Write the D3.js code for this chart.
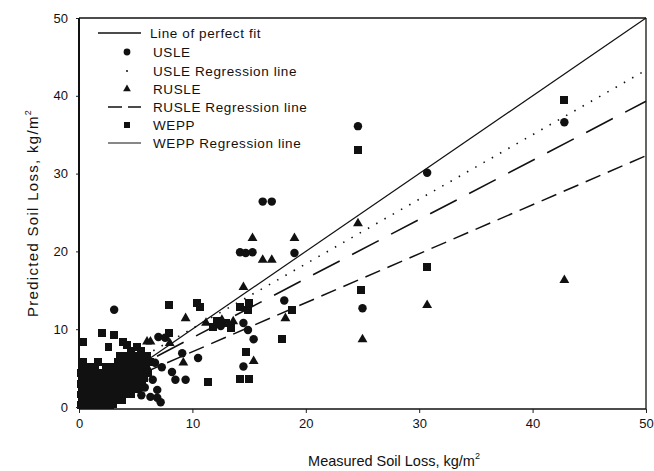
<!DOCTYPE html>
<html>
<head>
<meta charset="utf-8">
<script src="https://cdn.jsdelivr.net/npm/d3@7"></script>
<style>
  body { margin: 0; background: #fff; }
  svg { font-family: "Liberation Sans", Arial, sans-serif; }
</style>
</head>
<body>
<div id="chart"></div>
<script>
// Measured vs predicted soil loss, kg/m2 — [measured, predicted]
const usle = [
  [3.1, 12.5], [7.0, 9.0], [7.6, 8.9], [9.1, 6.9], [10.5, 6.3], [6.7, 5.7], [7.3, 5.1],
  [8.2, 4.5], [8.5, 3.5], [9.4, 3.5], [6.5, 3.5], [6.9, 2.2], [6.9, 1.2], [7.2, 0.6],
  [6.3, 1.3], [5.8, 2.5], [6.0, 4.8], [5.5, 1.5], [14.2, 19.9], [14.7, 19.8], [15.3, 19.9],
  [16.2, 26.4], [17.0, 26.4], [19.0, 19.8], [18.1, 13.7], [14.5, 10.8], [14.9, 9.9],
  [15.4, 8.7], [14.5, 5.2], [12.5, 10.4], [24.6, 36.1], [25.0, 12.7], [30.7, 30.1], [42.8, 36.6]
];
const rusle = [
  [6.0, 8.4], [6.3, 8.4], [8.0, 8.2], [9.4, 11.4], [9.2, 5.7], [11.2, 10.8], [12.6, 11.2],
  [13.6, 11.0], [15.3, 21.7], [19.0, 21.7], [16.2, 18.9], [17.0, 18.9], [14.5, 15.4],
  [15.4, 5.9], [18.2, 11.4], [4.8, 6.8], [3.5, 6.0], [24.6, 23.6], [25.0, 8.7],
  [30.7, 13.1], [42.8, 16.3]
];
const wepp = [
  // dense cluster near the origin
  [0.2, 0.3], [0.7, 0.3], [1.2, 0.3], [1.7, 0.3], [2.2, 0.3], [2.7, 0.3], [3.0, 0.4],
  [0.3, 0.9], [0.8, 0.9], [1.3, 0.9], [1.8, 0.9], [2.3, 0.9], [2.8, 0.9], [3.3, 0.9], [3.8, 0.9],
  [0.2, 1.6], [0.7, 1.6], [1.2, 1.6], [1.7, 1.6], [2.2, 1.6], [2.7, 1.6], [3.2, 1.6], [3.7, 1.6], [4.2, 1.6], [4.6, 1.6],
  [0.3, 2.3], [0.8, 2.3], [1.3, 2.3], [1.8, 2.3], [2.3, 2.3], [2.8, 2.3], [3.3, 2.3], [3.8, 2.3], [4.3, 2.3], [4.8, 2.3], [5.2, 2.3],
  [0.2, 3.0], [0.7, 3.0], [1.2, 3.0], [1.7, 3.0], [2.2, 3.0], [2.7, 3.0], [3.2, 3.0], [3.7, 3.0], [4.2, 3.0], [4.7, 3.0], [5.2, 3.0], [5.6, 3.0],
  [0.3, 3.7], [0.8, 3.7], [1.3, 3.7], [1.8, 3.7], [2.3, 3.7], [2.8, 3.7], [3.3, 3.7], [3.8, 3.7], [4.3, 3.7], [4.8, 3.7], [5.3, 3.7], [5.7, 3.7],
  [0.2, 4.4], [0.7, 4.4], [1.2, 4.4], [1.7, 4.4], [2.2, 4.4], [2.7, 4.4], [3.2, 4.4], [3.7, 4.4], [4.2, 4.4], [4.7, 4.4], [5.2, 4.4], [5.7, 4.4], [6.1, 4.4],
  [0.3, 5.1], [0.8, 5.1], [1.4, 5.1], [2.4, 5.1], [2.9, 5.1], [3.4, 5.1], [3.9, 5.1], [4.4, 5.1], [4.9, 5.1], [5.4, 5.1], [5.9, 5.1],
  [0.4, 5.8], [1.7, 5.8], [3.4, 5.8], [3.9, 5.8], [4.4, 5.8], [4.9, 5.8], [5.4, 5.8], [5.9, 5.8], [6.3, 5.8],
  [3.6, 6.5], [4.2, 6.5], [4.8, 6.5], [5.4, 6.5], [6.0, 6.5], [4.6, 7.2], [5.5, 7.2],
  // scattered
  [0.4, 8.4], [2.0, 9.5], [3.1, 9.3], [2.6, 7.7], [3.9, 8.4], [4.2, 8.0], [5.1, 7.7],
  [7.9, 13.1], [7.9, 9.5], [10.4, 13.4], [10.7, 12.8], [11.4, 3.2], [11.8, 10.3], [12.2, 11.0],
  [13.0, 10.8], [13.4, 10.2], [14.2, 12.9], [15.0, 13.4], [14.9, 12.5], [14.7, 7.1], [14.2, 3.6],
  [15.0, 3.6], [17.9, 8.7], [18.8, 12.5], [24.6, 33.0], [24.9, 15.0], [30.7, 18.0], [42.8, 39.5]
];

// regression lines: [slope, intercept]
const perfectFit = [1, 0];
const usleFit = [0.83, 1.8];
const rusleFit = [0.63, 0.8];
const weppFit = [0.76, 1.3];

const xTicks = [0, 10, 20, 30, 40, 50];
const yTicks = [0, 10, 20, 30, 40, 50];

const legendItems = [
  { label: "Line of perfect fit", type: "line", dash: null, width: 1.6 },
  { label: "USLE", type: "symbol", symbol: d3.symbolCircle },
  { label: "USLE Regression line", type: "dot" },
  { label: "RUSLE", type: "symbol", symbol: d3.symbolTriangle },
  { label: "RUSLE Regression line", type: "line", dash: "14,6", width: 1.3 },
  { label: "WEPP", type: "symbol", symbol: d3.symbolSquare },
  { label: "WEPP Regression line", type: "line", dash: null, width: 1 }
];

const width = 654, height = 471;
const margin = { left: 79, right: 8, top: 18, bottom: 62 };

const svg = d3.select("#chart").append("svg")
  .attr("width", width)
  .attr("height", height);

const x = d3.scaleLinear().domain([0, 50]).range([margin.left, width - margin.right]);
const y = d3.scaleLinear().domain([0, 50]).range([height - margin.bottom - 2, margin.top]);

// regression lines (drawn under the points)
const fitLine = (fit, x0) => d3.line()
  .x(d => x(d))
  .y(d => y(fit[0] * d + fit[1]))([x0, 50]);

const lines = svg.append("g").attr("fill", "none").attr("stroke", "#111");
lines.append("path").attr("d", fitLine(perfectFit, 0)).attr("stroke-width", 1.2);
lines.append("path").attr("d", fitLine(usleFit, 0)).attr("stroke-width", 1.6)
  .attr("stroke-dasharray", "1.5,8");
lines.append("path").attr("d", fitLine(weppFit, 0)).attr("stroke-width", 1.6)
  .attr("stroke-dasharray", "30,14");
lines.append("path").attr("d", fitLine(rusleFit, 0)).attr("stroke-width", 1.5)
  .attr("stroke-dasharray", "16,8");

// points
const sym = d3.symbol();
function drawPoints(data, shape, size, crisp) {
  svg.append("g")
    .attr("shape-rendering", crisp ? "crispEdges" : null)
    .selectAll("path")
    .data(data)
    .join("path")
    .attr("transform", d => `translate(${x(d[0])},${y(d[1])})`)
    .attr("d", sym.type(shape).size(size)())
    .attr("fill", "#111");
}
drawPoints(wepp, d3.symbolSquare, 62, true);
drawPoints(usle, d3.symbolCircle, 56);
drawPoints(rusle, d3.symbolTriangle, 42);

// axes
const xAxis = svg.append("g")
  .attr("transform", `translate(0,${y(0) + 2})`)
  .call(d3.axisBottom(x).tickValues(xTicks).tickSize(4).tickPadding(6));
const yAxis = svg.append("g")
  .attr("transform", `translate(${margin.left},0)`)
  .call(d3.axisLeft(y).tickValues(yTicks).tickSize(3).tickPadding(8));

[xAxis, yAxis].forEach(ax => {
  ax.select(".domain").remove();
  ax.selectAll("line").attr("stroke", "#222");
  ax.selectAll("text").attr("font-size", 13).attr("fill", "#111")
    .attr("font-family", "Liberation Sans, Arial, sans-serif");
});

// frame
const frame = svg.append("g").attr("fill", "none").attr("stroke", "#111");
frame.append("line").attr("x1", x(0)).attr("x2", x(0)).attr("y1", y(50)).attr("y2", y(0) + 2)
  .attr("stroke-width", 2);
frame.append("line").attr("x1", x(0)).attr("x2", x(50)).attr("y1", y(0) + 2).attr("y2", y(0) + 2)
  .attr("stroke-width", 1.3);
frame.append("line").attr("x1", x(0)).attr("x2", x(50)).attr("y1", y(50)).attr("y2", y(50))
  .attr("stroke-width", 1.3);
frame.append("line").attr("x1", x(50)).attr("x2", x(50)).attr("y1", y(50)).attr("y2", y(0) + 2)
  .attr("stroke-width", 1.3);

// axis titles
const xTitle = svg.append("text")
  .attr("x", 394).attr("y", 466)
  .attr("text-anchor", "middle")
  .attr("font-size", 14.5).attr("fill", "#111")
  .text("Measured Soil Loss, kg/m");
xTitle.append("tspan").attr("dy", -7).attr("font-size", 9).text("2");

const yTitle = svg.append("text")
  .attr("transform", `translate(38,213) rotate(-90)`)
  .attr("text-anchor", "middle")
  .attr("font-size", 15).attr("letter-spacing", 1.3).attr("fill", "#111")
  .text("Predicted Soil Loss, kg/m");
yTitle.append("tspan").attr("dy", -7).attr("font-size", 9).text("2");

// legend
const legend = svg.append("g");
const rowY = [33, 52, 71, 89, 107, 125, 143];
legendItems.forEach((item, i) => {
  const g = legend.append("g").attr("transform", `translate(0,${rowY[i]})`);
  if (item.type === "line") {
    const x0 = i === 0 ? 98 : 108;
    g.append("line").attr("x1", x0).attr("x2", 141).attr("y1", 0).attr("y2", 0)
      .attr("stroke", "#111").attr("stroke-width", item.width)
      .attr("stroke-dasharray", item.dash);
  } else if (item.type === "dot") {
    g.append("circle").attr("cx", 127).attr("cy", 0).attr("r", 1).attr("fill", "#111");
  } else {
    g.append("path").attr("transform", "translate(127,0)")
      .attr("d", sym.type(item.symbol).size(item.symbol === d3.symbolTriangle ? 26 : 36)())
      .attr("fill", "#111");
  }
  g.append("text")
    .attr("x", i === 0 ? 150 : 153).attr("y", 5)
    .attr("font-size", 13.5).attr("letter-spacing", 0.6).attr("fill", "#111")
    .text(item.label);
});
</script>
</body>
</html>
